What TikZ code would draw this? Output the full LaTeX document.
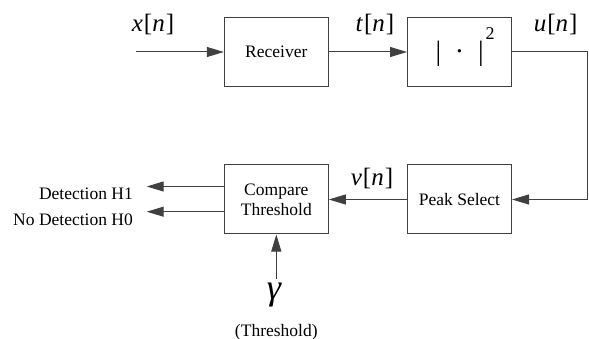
\documentclass[tikz,border=0pt]{standalone}
\usepackage{fontspec}
\setmainfont{LiberationSerif}[Extension=.ttf, UprightFont=*-Regular, ItalicFont=*-Italic, BoldFont=*-Bold, BoldItalicFont=*-BoldItalic]
\usetikzlibrary{arrows.meta}
\begin{document}
\begin{tikzpicture}[x=1pt,y=-1pt,
  blk/.style={draw=black!75, line width=1pt, minimum width=104pt, minimum height=69pt,
    inner sep=0pt, font=\fontsize{17.5}{20}\selectfont, align=center},
  conn/.style={draw=black!75, line width=1pt, -{Triangle[length=17pt,width=10pt]}},
  sig/.style={font=\fontsize{25}{25}\selectfont, inner sep=0pt},
  lbl/.style={font=\fontsize{17.5}{20}\selectfont, inner sep=0pt}]
\useasboundingbox (0,0) rectangle (589,339);
% blocks
\node[blk] (rx)   at (276.3,52)    {Receiver};
\node[blk] (sq)   at (459.5,52)    {};
\node[blk] (cmp)  at (276.3,199.5) {Compare\\Threshold};
\node[blk] (peak) at (459.5,199.5) {Peak Select};
% |.|^2 label
\node[anchor=west, inner sep=0pt, font=\fontsize{28}{28}\selectfont] (sqlbl) at (435.5,54)
  {|\hspace{13.7pt}·\hspace{13.7pt}|\hspace{2pt}\raisebox{21pt}[0pt][0pt]{\fontsize{18}{18}\selectfont 2}};
% signal labels
\node[sig] (xl) at (153,25)  {\textit{x}\kern1pt[\textit{n}\kern1pt]};
\node[sig] (tl) at (375,25)  {\textit{t}\kern1pt[\textit{n}\kern1pt]};
\node[sig] (ul) at (555.7,25) {\textit{u}\kern1pt[\textit{n}\kern1pt]};
\node[sig] (vl) at (372,179) {\textit{v}\kern1pt[\textit{n}\kern1pt]};
% outputs
\node[lbl, anchor=east] (h1) at (133,193.3) {Detection H1};
\node[lbl, anchor=east] (h0) at (133,219.3) {No Detection H0};
% threshold
\node[font=\fontsize{36}{36}\selectfont\itshape, inner sep=0pt] (gam) at (274,295) {γ};
\node[lbl] (thr) at (276.3,332) {(Threshold)};
% connectors
\coordinate (in) at (136,52);
\coordinate (rt) at (587.5,52);
\coordinate (o1) at (146.7,186.5);
\coordinate (o0) at (146.7,211.7);
\draw[conn] (in) -- (rx.west);
\draw[conn] (rx.east) -- (sq.west);
\draw[draw=black!75, line width=1pt] (sq.east) -- (rt);
\draw[conn] (rt) |- (peak.east);
\draw[conn] (peak.west) -- (cmp.east);
\draw[conn] (cmp.west |- o1) -- (o1);
\draw[conn] (cmp.west |- o0) -- (o0);
\draw[conn] ([yshift=4pt]cmp.south |- gam.north) -- (cmp.south);
\end{tikzpicture}
\end{document}
